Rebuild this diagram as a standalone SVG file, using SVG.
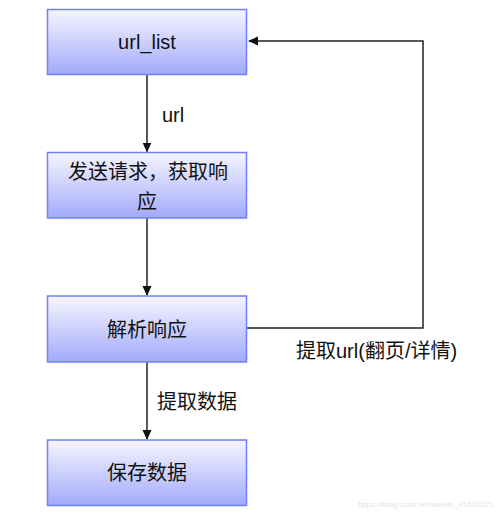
<svg xmlns="http://www.w3.org/2000/svg" width="500" height="516" viewBox="0 0 500 516">
<style>
.box{fill:url(#g);stroke:#6f7ffb;stroke-width:1.5}
.t{font-family:"Liberation Sans","Noto Sans CJK SC",sans-serif;font-size:20px;fill:#111;text-anchor:middle;dominant-baseline:central}
.l{font-family:"Liberation Sans","Noto Sans CJK SC",sans-serif;font-size:20px;fill:#111;dominant-baseline:central}
.c{fill:none;stroke:#222;stroke-width:1.5}
</style>
<defs>
<linearGradient id="g" x1="0" y1="0" x2="0" y2="1">
<stop offset="0" stop-color="#f6f6ff"/>
<stop offset="1" stop-color="#a2aaf9"/>
</linearGradient>
<marker id="a" markerWidth="10" markerHeight="10" refX="9" refY="5" orient="auto" markerUnits="userSpaceOnUse">
<path d="M0,0.5 L10,5 L0,9.5 Z" fill="#111"/>
</marker>
</defs>
<rect width="500" height="516" fill="#fff"/>
<g id="connectors">
<line class="c" x1="147" y1="74.5" x2="147" y2="151.5" marker-end="url(#a)"/>
<line class="c" x1="147" y1="218" x2="147" y2="295" marker-end="url(#a)"/>
<line class="c" x1="147" y1="362" x2="147" y2="439" marker-end="url(#a)"/>
<polyline class="c" points="247,328 423,328 423,41 249,41" marker-end="url(#a)"/>
<text class="l" x="162" y="115">url</text>
<text class="l" x="296" y="351">提取url(翻页/详情)</text>
<text class="l" x="157" y="402">提取数据</text>
</g>
<g id="url_list">
<rect class="box" x="47.5" y="9.5" width="199" height="65"/>
<text class="t" x="147" y="42">url_list</text>
</g>
<g id="send_request">
<rect class="box" x="47.5" y="152.5" width="199" height="65.5"/>
<text class="t" x="148" y="172">发送请求，获取响</text>
<text class="t" x="147" y="202">应</text>
</g>
<g id="parse_response">
<rect class="box" x="47.5" y="296" width="199" height="66"/>
<text class="t" x="147" y="330">解析响应</text>
</g>
<g id="save_data">
<rect class="box" x="47.5" y="440" width="199" height="65.5"/>
<text class="t" x="147" y="473">保存数据</text>
</g>
<text x="494" y="507" font-family="Liberation Sans,sans-serif" font-size="8" fill="#e4e4e4" text-anchor="end">https://blog.csdn.net/weixin_41692221</text>
</svg>
